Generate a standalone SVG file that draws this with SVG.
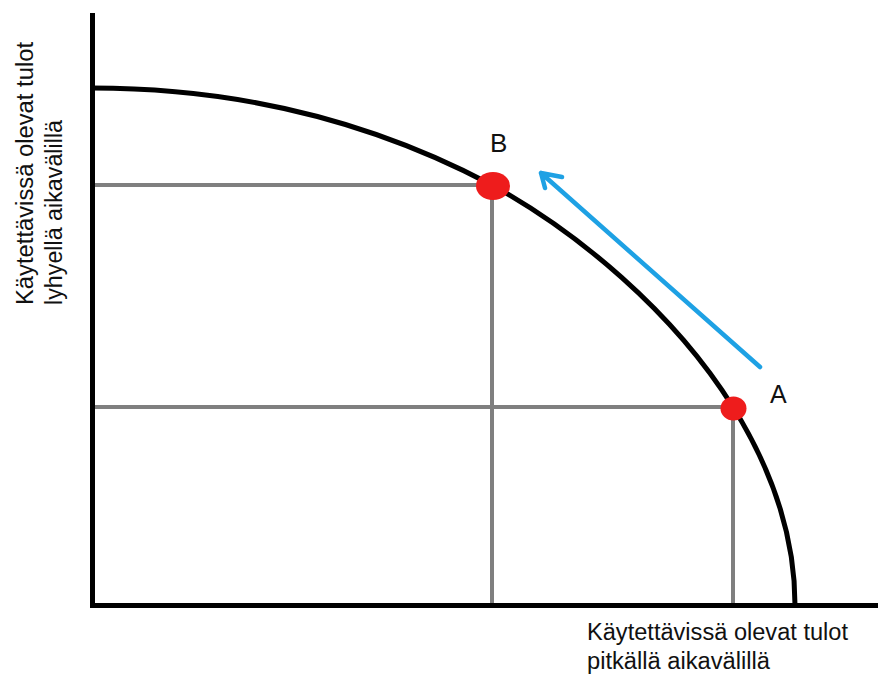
<svg xmlns="http://www.w3.org/2000/svg" width="878" height="675" viewBox="0 0 878 675">
<style>
.axis{stroke:#000;stroke-width:5;fill:none}
.curve{stroke:#000;stroke-width:5;fill:none}
.guide{stroke:#7f7f7f;stroke-width:4;fill:none}
.pt{fill:#ee1c1c}
.lbl{font-family:"Liberation Sans",Arial,sans-serif;fill:#111}
.arrow{stroke:#1ea1e4;stroke-width:4.5;fill:none;stroke-linecap:round;stroke-linejoin:round}
</style>
<rect width="878" height="675" fill="#fff"/>
<g id="guides">
<path class="guide" d="M92 185H492V605M92 407H733V605"/>
</g>
<g id="curve">
<path class="curve" d="M92 88C225 88 362 116 492 185C577 232 673 311 733 407C774 473 795 539 795 605"/>
</g>
<g id="axes">
<path class="axis" d="M92.5 13V605.5H878"/>
</g>
<g id="connectors">
<path class="arrow" d="M760 367L541 173M541 173L562 177M541 173L545 188"/>
</g>
<g id="pointB">
<ellipse class="pt" cx="493" cy="186" rx="17" ry="14"/>
<text class="lbl" x="490" y="152" font-size="26">B</text>
</g>
<g id="pointA">
<ellipse class="pt" cx="733.5" cy="408.5" rx="13" ry="12"/>
<text class="lbl" x="770" y="403" font-size="25">A</text>
</g>
<g id="ylabel" transform="translate(33 305) rotate(-90)">
<text class="lbl" x="0" y="0" font-size="23" textLength="263" lengthAdjust="spacingAndGlyphs">Käytettävissä olevat tulot</text>
<text class="lbl" x="0" y="29" font-size="23" textLength="185" lengthAdjust="spacingAndGlyphs">lyhyellä aikavälillä</text>
</g>
<g id="xlabel">
<text class="lbl" x="587" y="640" font-size="23" textLength="261" lengthAdjust="spacingAndGlyphs">Käytettävissä olevat tulot</text>
<text class="lbl" x="587" y="669" font-size="23" textLength="183" lengthAdjust="spacingAndGlyphs">pitkällä aikavälillä</text>
</g>
</svg>
